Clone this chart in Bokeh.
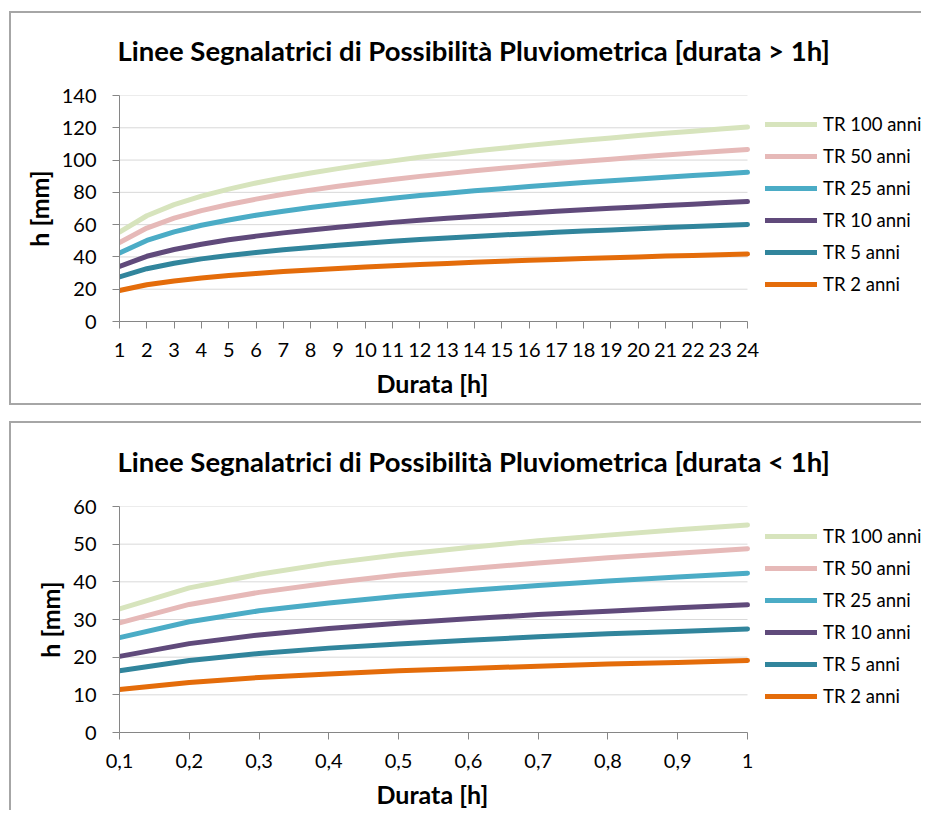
from bokeh.plotting import figure
from bokeh.models import FixedTicker, Legend, LegendItem, Range1d, Title
from bokeh.layouts import column
from bokeh.embed import file_html
from bokeh.resources import INLINE

# ---------------- data ----------------
series_names = ["TR 100 anni", "TR 50 anni", "TR 25 anni", "TR 10 anni", "TR 5 anni", "TR 2 anni"]
series_colors = ["#D7E4BD", "#E6B9B8", "#4BACC6", "#604A7B", "#31859C", "#E46C0A"]

# durata > 1h
durata_ore = list(range(1, 25))
tr100_ore = [55.3, 65.5, 72.4, 77.7, 82.0, 85.8, 89.1, 92.0, 94.7, 97.2, 99.5, 101.7,
             103.6, 105.6, 107.3, 109.1, 110.7, 112.3, 113.7, 115.2, 116.6, 117.9, 119.2, 120.5]
tr50_ore = [48.9, 57.9, 64.0, 68.7, 72.5, 75.8, 78.8, 81.4, 83.8, 86.0, 88.0, 89.9,
            91.6, 93.4, 94.9, 96.4, 97.9, 99.3, 100.5, 101.9, 103.1, 104.3, 105.4, 106.6]
tr25_ore = [42.4, 50.2, 55.5, 59.6, 62.9, 65.8, 68.3, 70.6, 72.6, 74.5, 76.3, 78.0,
            79.5, 81.0, 82.3, 83.6, 84.9, 86.1, 87.2, 88.3, 89.4, 90.4, 91.4, 92.4]
tr10_ore = [34.1, 40.4, 44.6, 47.9, 50.6, 52.9, 54.9, 56.7, 58.4, 59.9, 61.4, 62.7,
            63.9, 65.1, 66.2, 67.2, 68.3, 69.2, 70.1, 71.0, 71.9, 72.7, 73.5, 74.3]
tr5_ore = [27.6, 32.7, 36.1, 38.8, 40.9, 42.8, 44.5, 45.9, 47.3, 48.5, 49.7, 50.8,
           51.7, 52.7, 53.6, 54.4, 55.3, 56.0, 56.7, 57.5, 58.2, 58.8, 59.5, 60.1]
tr2_ore = [19.2, 22.8, 25.1, 27.0, 28.5, 29.8, 30.9, 31.9, 32.9, 33.8, 34.6, 35.3,
           36.0, 36.7, 37.3, 37.9, 38.4, 39.0, 39.5, 40.0, 40.5, 40.9, 41.4, 41.8]
xlabels_ore = [str(v) for v in durata_ore]
yticks_ore = [0, 20, 40, 60, 80, 100, 120, 140]

# durata < 1h
durata_min = [0.1, 0.2, 0.3, 0.4, 0.5, 0.6, 0.7, 0.8, 0.9, 1.0]
tr100_min = [32.8, 38.4, 42.0, 44.9, 47.2, 49.1, 50.9, 52.4, 53.8, 55.1]
tr50_min = [29.1, 34.0, 37.2, 39.7, 41.8, 43.5, 45.0, 46.4, 47.6, 48.8]
tr25_min = [25.2, 29.4, 32.3, 34.4, 36.2, 37.7, 39.0, 40.2, 41.3, 42.3]
tr10_min = [20.2, 23.6, 25.9, 27.6, 29.0, 30.2, 31.3, 32.2, 33.1, 33.9]
tr5_min = [16.4, 19.1, 21.0, 22.4, 23.5, 24.5, 25.4, 26.2, 26.8, 27.5]
tr2_min = [11.4, 13.3, 14.6, 15.5, 16.4, 17.0, 17.6, 18.2, 18.6, 19.1]
xlabels_min = ["0,1", "0,2", "0,3", "0,4", "0,5", "0,6", "0,7", "0,8", "0,9", "1"]
yticks_min = [0, 10, 20, 30, 40, 50, 60]

FONT = "Lato"
AX = "#868686"
BORDER = "2px solid #a6a6a6"
CANVAS_W = 912
LEFT = 108
PLOT_W = 628                     # pixel width of the data area (x[0] .. x[-1])
FRAME_W = CANVAS_W - LEFT        # frame also hosts the legend on the right


def x_title():
    kw = dict(text="Durata [h]", text_font=FONT, text_font_style="bold",
              text_font_size="25px", align="left", offset=257,
              vertical_align="top", text_color="black")
    try:
        return Title(standoff=-16, **kw)
    except Exception:
        return Title(standoff=0, **kw)


def make_chart(title, x, ys, xlabels, yticks, height, top, bottom, legend_y, borders):
    x_end = x[0] + (x[-1] - x[0]) * FRAME_W / PLOT_W
    p = figure(width=CANVAS_W, height=height, output_backend="svg", toolbar_location=None,
               x_range=Range1d(x[0], x_end), y_range=Range1d(yticks[0], yticks[-1]),
               min_border_left=LEFT, min_border_right=0,
               min_border_top=top, min_border_bottom=bottom,
               background_fill_color="white", border_fill_color="white")
    p.outline_line_color = None
    p.styles = borders

    # spacer between frame and title, then the title itself
    p.add_layout(Title(text=" ", text_font_size="20px", standoff=0), "above")
    p.add_layout(Title(text=title, text_font=FONT, text_font_style="bold",
                       text_font_size="27.5px", align="left", offset=-2,
                       text_color="black"), "above")

    # horizontal gridlines limited to the data area
    n = len(yticks)
    p.segment(x0=[x[0]] * n, x1=[x[-1]] * n, y0=yticks, y1=yticks,
              line_color="#d9d9d9", line_width=1)

    renderers = []
    for ys_i, col in zip(ys, series_colors):
        r = p.line(x, ys_i, line_color=col, line_width=5, line_cap="round", line_join="round")
        renderers.append(r)

    p.xaxis.ticker = FixedTicker(ticks=x)
    p.xaxis.bounds = (x[0], x[-1])
    p.xaxis.major_label_overrides = {xv: lab for xv, lab in zip(x, xlabels)}
    p.yaxis.ticker = FixedTicker(ticks=yticks)
    for ax in (p.xaxis[0], p.yaxis[0]):
        ax.axis_line_color = AX
        ax.major_tick_line_color = AX
        ax.minor_tick_line_color = None
        ax.major_tick_out = 7
        ax.major_tick_in = 0
        ax.major_label_text_font = FONT
        ax.major_label_text_font_size = "20px"
        ax.major_label_text_color = "black"
        ax.axis_label_text_font = FONT
        ax.axis_label_text_font_style = "bold"
        ax.axis_label_text_font_size = "25px"
        ax.axis_label_text_color = "black"
    p.yaxis.axis_label = "h [mm]"
    p.xaxis.major_label_standoff = 14
    p.yaxis.major_label_standoff = 16
    p.yaxis.axis_label_standoff = 5

    # x axis title, centred under the data area (not under the legend)
    p.add_layout(Title(text=" ", text_font_size="12.5px", standoff=0), "below")
    p.add_layout(x_title(), "below")

    p.xgrid.visible = False
    p.ygrid.visible = False

    items = [LegendItem(label=nm, renderers=[r]) for nm, r in zip(series_names, renderers)]
    leg = Legend(items=items, location=(PLOT_W + 18, legend_y))
    leg.border_line_color = None
    leg.background_fill_alpha = 0
    leg.label_text_font = FONT
    leg.label_text_font_size = "18.5px"
    leg.label_text_color = "black"
    leg.glyph_width = 52
    leg.glyph_height = 22
    leg.label_height = 22
    leg.spacing = 10
    leg.label_standoff = 6
    leg.padding = 0
    leg.margin = 0
    p.add_layout(leg)
    return p


p1 = make_chart("Linee Segnalatrici di Possibilità Pluviometrica [durata > 1h]",
                durata_ore,
                [tr100_ore, tr50_ore, tr25_ore, tr10_ore, tr5_ore, tr2_ore],
                xlabels_ore, yticks_ore, 394, 82, 86, 26,
                {"border-top": BORDER, "border-left": BORDER, "border-bottom": BORDER})
p2 = make_chart("Linee Segnalatrici di Possibilità Pluviometrica [durata < 1h]",
                durata_min,
                [tr100_min, tr50_min, tr25_min, tr10_min, tr5_min, tr2_min],
                xlabels_min, yticks_min, 389, 83, 80, 25,
                {"border-top": BORDER, "border-left": BORDER})
p1.margin = (11, 0, 0, 9)
p2.margin = (16, 0, 0, 9)

layout = column(p1, p2)
open("out.html", "w").write(file_html(layout, INLINE))
